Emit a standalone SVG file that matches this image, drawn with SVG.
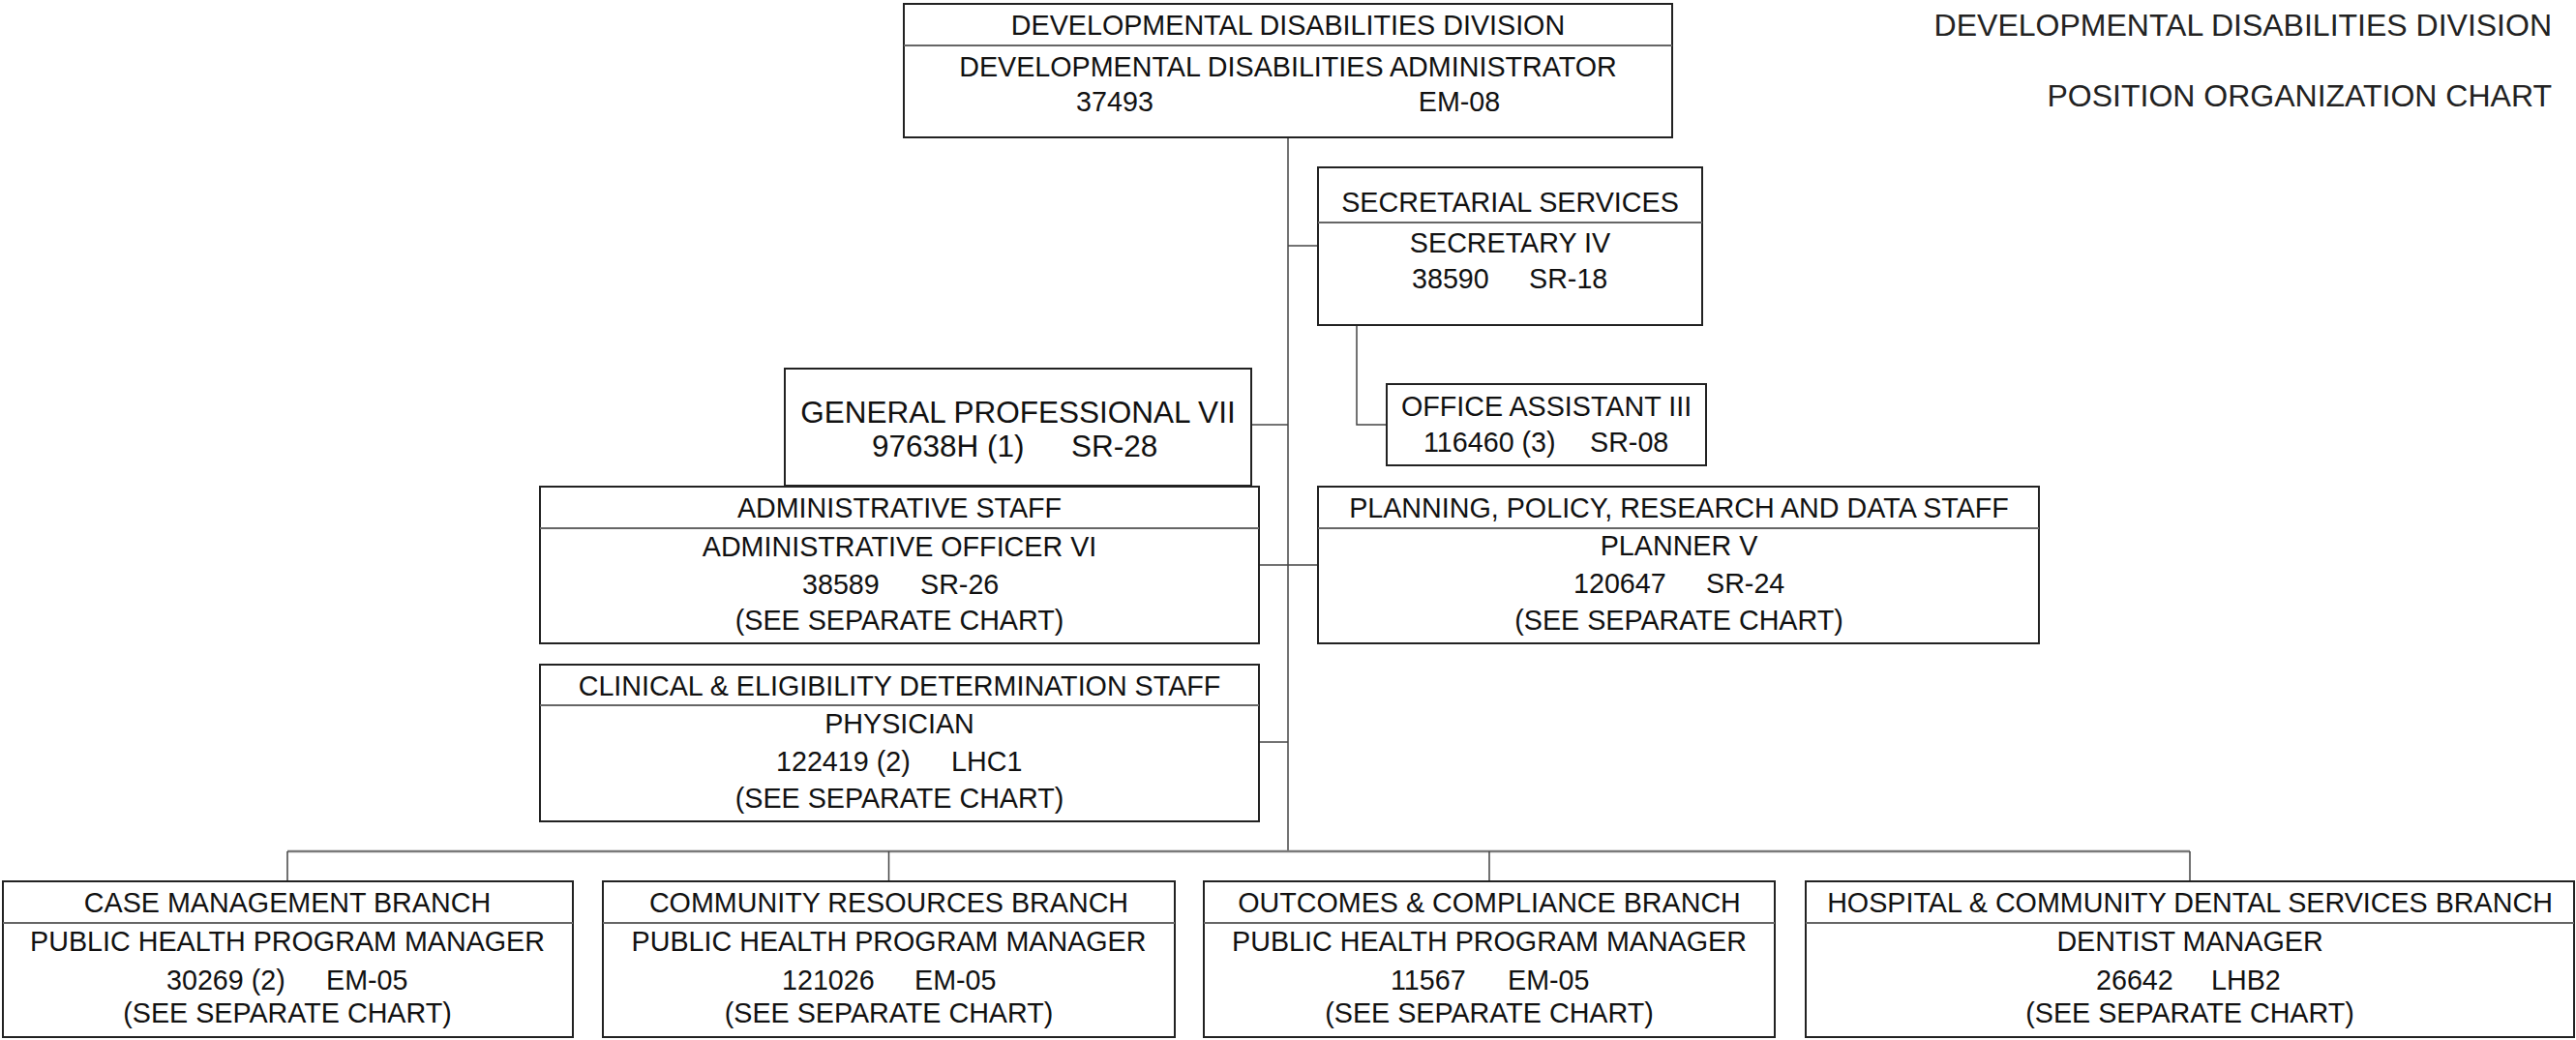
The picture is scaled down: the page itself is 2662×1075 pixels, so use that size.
<svg xmlns="http://www.w3.org/2000/svg" width="2662" height="1075" viewBox="0 0 2662 1075">
<style>
.box{fill:#fff;stroke:#222;stroke-width:2}
.dv{stroke:#666;stroke-width:2}
.conn{stroke:#444;stroke-width:1.5;fill:none}
.bus{stroke:#7a7a7a;stroke-width:2.5;fill:none}
.t{font-family:"Liberation Sans",Arial,sans-serif;font-size:28.7px;fill:#111;text-anchor:middle}
.s{text-anchor:start}
.big{font-size:31.5px}
.title{font-family:"Liberation Sans",Arial,sans-serif;font-size:32px;fill:#222;text-anchor:end}
</style>
<rect width="2662" height="1075" fill="#fff"/>
<g id="connectors">
<path class="conn" d="M1331 142V880"/>
<path class="bus" d="M297 880H2263"/>
<path class="conn" d="M297 880V911M918.5 880V911M1539 880V911M2263 880V911"/>
<path class="conn" d="M1331 254H1362"/>
<path class="conn" d="M1402 336V439H1433"/>
<path class="conn" d="M1293 439H1331"/>
<path class="conn" d="M1301 584H1362"/>
<path class="conn" d="M1301 767H1331"/>
</g>
<g id="title">
<text class="title" x="2637" y="37">DEVELOPMENTAL DISABILITIES DIVISION</text>
<text class="title" x="2637" y="110">POSITION ORGANIZATION CHART</text>
</g>
<g id="dd-administrator">
<rect class="box" x="934" y="4" width="794" height="138"/>
<line class="dv" x1="934" y1="47" x2="1728" y2="47"/>
<text class="t" x="1331" y="36">DEVELOPMENTAL DISABILITIES DIVISION</text>
<text class="t" x="1331" y="79">DEVELOPMENTAL DISABILITIES ADMINISTRATOR</text>
<text class="t" y="115"><tspan x="1152">37493</tspan><tspan x="1508">EM-08</tspan></text>
</g>
<g id="secretarial">
<rect class="box" x="1362" y="173" width="397" height="163"/>
<line class="dv" x1="1362" y1="230" x2="1759" y2="230"/>
<text class="t" x="1560.5" y="219">SECRETARIAL SERVICES</text>
<text class="t" x="1560.5" y="261">SECRETARY IV</text>
<text class="t s" y="298"><tspan x="1459">38590</tspan><tspan x="1580">SR-18</tspan></text>
</g>
<g id="office-assistant">
<rect class="box" x="1433" y="397" width="330" height="84"/>
<text class="t" x="1598" y="430">OFFICE ASSISTANT III</text>
<text class="t s" y="467"><tspan x="1471">116460 (3)</tspan><tspan x="1643">SR-08</tspan></text>
</g>
<g id="general-professional">
<rect class="box" x="811" y="381" width="482" height="121"/>
<text class="t big" x="1052" y="437">GENERAL PROFESSIONAL VII</text>
<text class="t big s" y="472"><tspan x="901">97638H (1)</tspan><tspan x="1107">SR-28</tspan></text>
</g>
<g id="administrative-staff">
<rect class="box" x="558" y="503" width="743" height="162"/>
<line class="dv" x1="558" y1="546" x2="1301" y2="546"/>
<text class="t" x="929.5" y="535">ADMINISTRATIVE STAFF</text>
<text class="t" x="929.5" y="575">ADMINISTRATIVE OFFICER VI</text>
<text class="t s" y="614"><tspan x="829">38589</tspan><tspan x="951">SR-26</tspan></text>
<text class="t" x="929.5" y="651">(SEE SEPARATE CHART)</text>
</g>
<g id="planning-staff">
<rect class="box" x="1362" y="503" width="745" height="162"/>
<line class="dv" x1="1362" y1="546" x2="2107" y2="546"/>
<text class="t" x="1735" y="535">PLANNING, POLICY, RESEARCH AND DATA STAFF</text>
<text class="t" x="1735" y="574">PLANNER V</text>
<text class="t s" y="613"><tspan x="1626">120647</tspan><tspan x="1763">SR-24</tspan></text>
<text class="t" x="1735" y="651">(SEE SEPARATE CHART)</text>
</g>
<g id="clinical-staff">
<rect class="box" x="558" y="687" width="743" height="162"/>
<line class="dv" x1="558" y1="729" x2="1301" y2="729"/>
<text class="t" x="929.5" y="719">CLINICAL &amp; ELIGIBILITY DETERMINATION STAFF</text>
<text class="t" x="929.5" y="758">PHYSICIAN</text>
<text class="t s" y="797"><tspan x="802">122419 (2)</tspan><tspan x="983">LHC1</tspan></text>
<text class="t" x="929.5" y="835">(SEE SEPARATE CHART)</text>
</g>
<g id="case-management">
<rect class="box" x="3" y="911" width="589" height="161"/>
<line class="dv" x1="3" y1="954" x2="592" y2="954"/>
<text class="t" x="297" y="943">CASE MANAGEMENT BRANCH</text>
<text class="t" x="297" y="983">PUBLIC HEALTH PROGRAM MANAGER</text>
<text class="t s" y="1023"><tspan x="172">30269 (2)</tspan><tspan x="337">EM-05</tspan></text>
<text class="t" x="297" y="1057">(SEE SEPARATE CHART)</text>
</g>
<g id="community-resources">
<rect class="box" x="623" y="911" width="591" height="161"/>
<line class="dv" x1="623" y1="954" x2="1214" y2="954"/>
<text class="t" x="918.5" y="943">COMMUNITY RESOURCES BRANCH</text>
<text class="t" x="918.5" y="983">PUBLIC HEALTH PROGRAM MANAGER</text>
<text class="t s" y="1023"><tspan x="808">121026</tspan><tspan x="945">EM-05</tspan></text>
<text class="t" x="918.5" y="1057">(SEE SEPARATE CHART)</text>
</g>
<g id="outcomes-compliance">
<rect class="box" x="1244" y="911" width="590" height="161"/>
<line class="dv" x1="1244" y1="954" x2="1834" y2="954"/>
<text class="t" x="1539" y="943">OUTCOMES &amp; COMPLIANCE BRANCH</text>
<text class="t" x="1539" y="983">PUBLIC HEALTH PROGRAM MANAGER</text>
<text class="t s" y="1023"><tspan x="1437">11567</tspan><tspan x="1558">EM-05</tspan></text>
<text class="t" x="1539" y="1057">(SEE SEPARATE CHART)</text>
</g>
<g id="hospital-dental">
<rect class="box" x="1866" y="911" width="794" height="161"/>
<line class="dv" x1="1866" y1="954" x2="2660" y2="954"/>
<text class="t" x="2263" y="943">HOSPITAL &amp; COMMUNITY DENTAL SERVICES BRANCH</text>
<text class="t" x="2263" y="983">DENTIST MANAGER</text>
<text class="t s" y="1023"><tspan x="2166">26642</tspan><tspan x="2285">LHB2</tspan></text>
<text class="t" x="2263" y="1057">(SEE SEPARATE CHART)</text>
</g>
</svg>
